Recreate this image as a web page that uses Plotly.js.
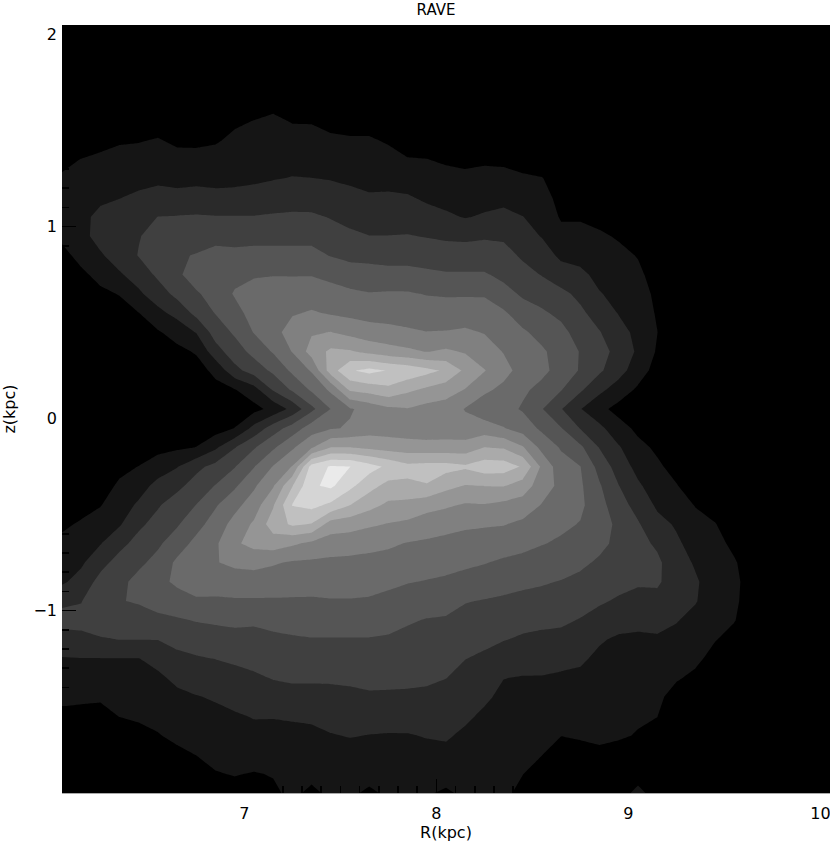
<!DOCTYPE html>
<html><head><meta charset="utf-8">
<script src="https://cdn.plot.ly/plotly-3.0.1.min.js"></script>
<style>html,body{margin:0;padding:0;background:#fff}#p{width:830px;height:846px}</style>
</head><body><div id="p"></div>
<script>
const chartTitle = 'RAVE', xLabel = 'R(kpc)', yLabel = 'z(kpc)';
const levelColors = ['#000000','#151515','#2a2a2a','#404040','#555555','#6a6a6a','#808080','#959595','#aaaaaa','#c0c0c0','#d5d5d5','#eaeaea'];
const xTicks = [7,8,9,10], yTicks = [-1,0,1,2];
const R = [6.05,6.15,6.25,6.35,6.45,6.55,6.65,6.75,6.85,6.95,7.05,7.15,7.25,7.35,7.45,7.55,7.65,7.75,7.85,7.95,8.05,8.15,8.25,8.35,8.45,8.55,8.65,8.75,8.85,8.95,9.05,9.15,9.25,9.35,9.45,9.55,9.65];
const Z = [2.05,1.95,1.85,1.75,1.65,1.55,1.45,1.35,1.25,1.15,1.05,.95,.85,.75,.65,.55,.45,.35,.25,.15,.05,-.05,-.15,-.25,-.35,-.45,-.55,-.65,-.75,-.85,-.95,-1.05,-1.15,-1.25,-1.35,-1.45,-1.55,-1.65,-1.75,-1.85,-1.95];
// density level per column of R (top row z=2.05 first)
const c00=[0,0,0,0,0,0,0,.8,1.1,1.35, 1.6,1.2,.7,.3,0,0,0,0,0,0, 0,0,0,0,0,.5,.85,1.2,1.55,1.85, 2.8,3.35,2.6,1.95,1.5,1.2,.8,.4,.2,0, 0];
const c01=[0,0,0,0,0,0,.5,1.02,1.3,1.55, 1.8,1.75,1.3,.8,.3,0,0,0,0,0, 0,0,0,0,.3,.7,1.1,1.45,1.85,2.35, 2.95,3.35,2.7,1.98,1.5,1.15,.75,.4,.2,0, 0];
const c02=[0,0,0,0,0,.3,.75,1.15,1.5,1.85, 2.2,2.3,1.9,1.3,.8,.3,0,0,0,0, 0,0,0,.2,.6,.95,1.45,1.95,2.65,3.35, 3.8,3.6,2.9,1.98,1.55,1.1,.75,.45,.2,0, 0];
const c03=[0,0,0,0,0,.1,.9,1.3,1.6,1.98, 2.35,2.6,2.4,1.9,1.05,.6,.2,0,0,0, 0,0,0,.75,1.15,1.55,1.9,2.7,3.4,3.75, 3.95,3.6,3.02,1.98,1.65,1.35,1.02,.6,.3,0, 0];
const c04=[0,0,0,0,0,.5,.95,1.3,1.75,2.15, 2.55,2.95,3.05,2.4,1.85,.98,.6,.2,0,0, 0,0,.4,1.02,1.6,2.15,2.8,3.35,3.8,4.3, 4.1,3.55,3.02,1.98,1.7,1.4,1.1,.8,.5,.2, 0];
const c05=[0,0,0,0,0,.65,1.05,1.4,1.8,2.35, 3.02,3.35,3.5,3.2,2.5,1.75,.9,.5,.1,0, 0,0,.7,1.5,2.3,2.9,3.35,3.85,4.3,4.7, 4.4,3.75,3.02,2.35,1.8,1.55,1.25,.95,.6,.3, 0];
const c06=[0,0,0,0,0,.45,.85,1.25,1.65,2.35, 3.05,3.5,3.9,3.85,3.3,2.3,1.4,.75,.4,0, 0,.2,.85,1.95,2.75,3.5,3.9,4.5,5.2,5.2, 4.55,3.9,3.3,2.75,2.25,1.75,1.5,1.2,.8,.4, 0];
const c07=[0,0,0,0,0,.45,.8,1.3,1.8,2.3, 3.1,3.6,4.05,4.4,3.9,3.3,2.05,1.1,.6,.25, 0,.5,1.02,2.75,3.4,4.02,4.65,5.3,5.7,5.55, 4.85,4.05,3.5,2.9,2.45,1.95,1.6,1.3,1.02,.6, .2];
const c08=[0,0,0,0,.1,.55,.9,1.35,1.75,2.25, 3.05,3.7,4.3,4.6,4.35,4.05,3.45,2.6,1.25,.7, .1,.55,1.85,3.3,4.05,4.9,5.45,5.85,5.95,5.5, 4.85,4.15,3.55,3.02,2.55,2.1,1.75,1.5,1.25,.95, .6];
const c09=[0,0,0,0,.3,.85,1.2,1.5,1.8,2.25, 3.05,3.65,4.25,4.7,5.1,4.65,4.15,3.55,2.7,.95, .4,1.02,2.95,3.95,4.85,5.7,6.35,6.85,6.2,5.55, 4.9,4.2,3.7,3.15,2.7,2.3,1.9,1.6,1.3,1.05, .7];
const c10=[0,0,0,0,.5,1.02,1.3,1.6,1.85,2.35, 3.05,3.7,4.3,4.9,5.4,5.4,5.05,4.3,3.45,1.6, .7,2.3,3.9,4.95,5.85,6.5,7.15,7.3,6.3,5.55, 4.9,4.15,3.7,3.3,2.85,2.45,2.05,1.75,1.4,.95, .6];
const c11=[0,0,0,.2,.75,1.15,1.4,1.65,1.95,2.55, 3.1,3.7,4.3,4.95,5.5,5.8,5.6,5.1,4.2,3.1, 1.3,3.5,4.85,6.05,6.9,7.9,8.5,7.5,6.1,5.5, 4.9,4.3,3.8,3.4,3.05,2.6,2.05,1.7,1.4,1.05, .85];
const c12=[0,0,0,.1,.55,.95,1.3,1.65,2.05,2.6, 3.15,3.7,4.3,4.95,5.45,5.9,6.5,6.05,5.2,4.15, 2.3,4.45,5.85,7.05,8.95,10.05,9.15,7.15,5.9,5.4, 4.9,4.35,3.9,3.5,3.15,2.65,2.1,1.75,1.45,1.2, 1.2];
const c13=[0,0,0,0,.35,.95,1.25,1.6,2.02,2.55, 3.15,3.7,4.3,4.95,5.5,6.1,6.9,7.4,6.1,5.15, 3.75,5.5,6.9,10.4,10.85,10.3,8.95,6.8,5.85,5.35, 4.9,4.45,3.95,3.55,3.15,2.65,2.15,1.8,1.5,1.25, .8];
const c14=[0,0,0,0,.1,.75,1.15,1.5,1.95,2.45, 2.95,3.4,3.95,4.75,5.35,5.9,7.02,8.2,8.5,6.2, 5.02,5.9,8.02,11.1,11.2,9.8,7.55,6.5,5.8,5.35, 4.95,4.45,3.95,3.5,3.15,2.7,2.35,1.95,1.6,1.3, 1.2];
const c15=[0,0,0,0,0,.65,1.1,1.45,1.85,2.25, 2.7,3.2,3.75,4.45,5.2,5.75,6.7,8.1,9.9,8.15, 5.9,6.1,8.02,11.02,10.25,9.02,7.4,6.45,5.75,5.35, 4.95,4.45,3.95,3.55,3.2,2.75,2.45,2.05,1.65,1.35, 1.2];
const c16=[0,0,0,0,0,.65,1.1,1.4,1.75,2.1, 2.5,3.02,3.7,4.4,5.05,5.65,6.4,7.7,10.3,8.4, 6.35,6.5,7.8,10.4,9.35,8.35,7.15,6.3,5.7,5.35, 4.9,4.45,3.95,3.6,3.3,2.85,2.4,1.98,1.7,1.4, .8];
const c17=[0,0,0,0,0,.45,.9,1.3,1.7,2.15, 2.55,3.02,3.6,4.35,5.1,5.6,6.3,7.4,9.95,8.75, 6.8,6.5,7.6,9.8,8.7,7.8,6.95,6.15,5.65,5.2, 4.75,4.3,3.9,3.55,3.25,2.85,2.35,1.95,1.7,1.45, 1.2];
const c18=[0,0,0,0,0,.2,.6,1.05,1.6,2.1, 2.55,3.05,3.65,4.3,5.1,5.55,6.15,7.2,9.7,8.2, 6.95,6.4,7.5,9.25,8.85,7.65,6.8,5.95,5.5,5.05, 4.55,4.1,3.75,3.5,3.2,2.85,2.4,1.95,1.7,1.5, 1.2];
const c19=[0,0,0,0,0,0,.4,1.02,1.5,1.85, 2.35,2.95,3.55,4.2,4.95,5.5,6.02,6.95,9.3,7.8, 6.65,6.3,7.45,9.35,8.95,7.35,6.5,5.85,5.4,4.95, 4.45,3.95,3.7,3.4,3.2,2.75,2.4,2.05,1.75,1.45, 1.1];
const c20=[0,0,0,0,0,0,.3,.85,1.35,1.7, 2.15,2.85,3.45,4.1,4.9,5.45,6.05,7.15,8.85,7.45, 6.55,6.35,7.45,9.35,8.3,7.15,6.3,5.75,5.3,4.85, 4.35,3.9,3.6,3.3,3.02,2.65,2.3,2.1,1.8,1.4, .85];
const c21=[0,0,0,0,0,0,.2,.7,1.3,1.65, 1.95,2.8,3.45,4.1,4.9,5.5,6.15,6.9,7.8,6.95, 5.95,6.3,7.45,9.15,7.95,6.9,6.15,5.65,5.2,4.65, 4.05,3.7,3.35,3.02,2.65,2.35,2.15,1.85,1.65,1.4, 1.2];
const c22=[0,0,0,0,0,0,.3,.85,1.3,1.7, 2.1,2.9,3.45,4.1,4.9,5.45,5.95,6.45,7.05,6.2, 5.4,6.45,8.02,9.55,8.02,6.95,6.1,5.55,5.05,4.5, 3.95,3.55,3.2,2.85,2.45,2.15,1.85,1.65,1.45,1.2, 1.2];
const c23=[0,0,0,0,0,0,.3,.8,1.3,1.8, 2.2,2.85,3.35,3.75,4.35,5.15,5.6,5.95,6.35,5.75, 5.35,6.05,7.9,9.5,8.05,6.75,6.05,5.45,4.85,4.35, 3.85,3.45,3.05,2.45,2.02,1.8,1.65,1.5,1.3,1.1, 1.25];
const c24=[0,0,0,0,0,0,.2,.6,1.15,1.6, 2.02,2.4,2.85,3.35,3.85,4.45,5.15,5.4,5.6,5.15, 4.9,5.55,7.1,8.9,7.55,6.55,5.8,5.25,4.75,4.2, 3.75,3.35,2.85,2.4,1.95,1.75,1.55,1.35,1.2,1.02, .7];
const c25=[0,0,0,0,0,0,0,.4,1.05,1.3, 1.65,1.95,2.45,2.95,3.55,4.15,4.65,5.15,5.2,4.75, 4.05,4.8,5.7,6.8,6.45,5.95,5.5,5.05,4.55,4.1, 3.65,3.2,2.8,2.35,1.95,1.7,1.45,1.25,1.02,.6, .2];
const c26=[0,0,0,0,0,0,0,0,.4,.75, .9,1.3,1.8,2.45,3.25,3.75,4.3,4.55,4.7,4.05, 3.05,4.05,4.9,5.4,5.75,5.55,5.2,4.85,4.45,3.95, 3.55,3.15,2.75,2.3,1.85,1.5,1.3,1.02,.6,.2, 0];
const c27=[0,0,0,0,0,0,0,0,.1,.55, .9,1.3,1.7,2.2,2.75,3.2,3.55,3.95,3.9,3.15, 2.05,2.95,4.2,5.02,5.15,5.2,4.95,4.55,4.2,3.75, 3.35,2.95,2.6,2.15,1.8,1.5,1.3,1.1,.7,.3, 0];
const c28=[0,0,0,0,0,0,0,0,0,.3, .7,1.15,1.45,1.75,2.05,2.55,3.05,3.4,3.15,2.25, 1.25,2.25,2.95,3.65,4.1,4.35,4.5,4.25,3.85,3.45, 3.1,2.7,2.1,1.8,1.55,1.35,1.2,1.15,.85,.4, 0];
const c29=[0,0,0,0,0,0,0,0,0,0, .45,.9,1.25,1.5,1.75,1.95,2.35,2.65,2.4,1.5, .7,1.35,2.1,2.55,3.02,3.4,3.75,3.75,3.55,3.25, 2.9,2.4,1.85,1.6,1.45,1.3,1.2,1.1,.7,.3, .6];
const c30=[0,0,0,0,0,0,0,0,0,0, .1,.55,.95,1.2,1.4,1.6,1.75,1.85,1.45,.85, .3,.8,1.25,1.7,2.15,2.65,3.1,3.3,3.25,3.1, 2.75,2.3,1.8,1.55,1.4,1.2,1.1,.95,.6,.6, 1.25];
const c31=[0,0,0,0,0,0,0,0,0,0, 0,.1,.3,.6,.8,.9,1.02,.9,.65,.2, 0,.2,.85,1.15,1.5,1.85,2.3,2.85,3.2,3.15, 2.7,2.25,1.9,1.6,1.4,1.2,1.02,.65,.3,.1, .6];
const c32=[0,0,0,0,0,0,0,0,0,0, 0,0,0,0,0,0,0,0,0,0, 0,0,.2,.7,1.05,1.45,1.9,2.15,2.4,2.5, 2.3,2.05,1.75,1.45,1.1,.65,.3,0,0,0, 0];
const c33=[0,0,0,0,0,0,0,0,0,0, 0,0,0,0,0,0,0,0,0,0, 0,0,0,.1,.5,.95,1.3,1.65,1.9,2.1, 2.05,1.75,1.45,1.2,.8,.4,0,0,0,0, 0];
const c34=[0,0,0,0,0,0,0,0,0,0, 0,0,0,0,0,0,0,0,0,0, 0,0,0,0,.1,.6,1.05,1.3,1.5,1.6, 1.55,1.4,1.05,.7,.4,0,0,0,0,0, 0];
const c35=[0,0,0,0,0,0,0,0,0,0, 0,0,0,0,0,0,0,0,0,0, 0,0,0,0,0,.1,.5,.8,1.1,1.2, 1.15,1.05,.7,.3,0,0,0,0,0,0, 0];
const c36=[0,0,0,0,0,0,0,0,0,0, 0,0,0,0,0,0,0,0,0,0, 0,0,0,0,0,0,0,.2,.5,.6, .6,.5,.2,0,0,0,0,0,0,0, 0];
const columns=[c00,c01,c02,c03,c04,c05,c06,c07,c08,c09,c10,c11,c12,c13,c14,c15,c16,c17,c18,c19,c20,c21,c22,c23,c24,c25,c26,c27,c28,c29,c30,c31,c32,c33,c34,c35,c36];

const zGrid = Z.map((_, r) => columns.map(col => col[r]));
const n = levelColors.length;
const colorscale = [];
levelColors.forEach((c, i) => { colorscale.push([i / n, c]); colorscale.push([(i + 1) / n, c]); });
const font = 'DejaVu Sans, Arial, sans-serif';
Plotly.newPlot('p', [{
  type: 'contour', x: R, y: Z, z: zGrid, zauto: false, zmin: 0, zmax: n,
  colorscale, showscale: false, hoverinfo: 'skip',
  autocontour: false, contours: {start: 1, end: n - 1, size: 1, coloring: 'fill', showlines: false},
  line: {width: 0, smoothing: 0}
}], {
  width: 830, height: 846,
  margin: {l: 62, r: 0, t: 25, b: 53},
  paper_bgcolor: '#fff', plot_bgcolor: '#000', showlegend: false,
  title: {text: chartTitle, x: 436/830, xanchor: 'center', y: 1-10/846, yanchor: 'middle', font: {family: font, size: 15, color: '#000'}},
  xaxis: {range: [6.05, 10.05], tickvals: xTicks, ticktext: xTicks.map(String), ticks: 'inside', ticklen: 14, tickwidth: 1.5, tickcolor: '#000',
    minor: {dtick: 0.1, ticks: 'inside', ticklen: 7, tickwidth: 1.5, tickcolor: '#000'},
    showgrid: false, zeroline: false, showline: true, linecolor: '#aaa', linewidth: 1, ticklabelstandoff: 6, ticklabeloverflow: 'allow', automargin: false,
    tickfont: {family: font, size: 16, color: '#000'},
    title: {text: xLabel, standoff: 4, font: {family: font, size: 16, color: '#000'}}},
  yaxis: {range: [-1.95, 2.05], tickvals: yTicks, ticktext: ['\u22121','0','1','2'], ticks: 'inside', ticklen: 14, tickwidth: 1.5, tickcolor: '#000',
    minor: {dtick: 0.1, ticks: 'inside', ticklen: 7, tickwidth: 1.5, tickcolor: '#000'},
    showgrid: false, zeroline: false, showline: false, ticklabelstandoff: 4, automargin: false,
    tickfont: {family: font, size: 16, color: '#000'},
    title: {text: yLabel, standoff: 20, font: {family: font, size: 16, color: '#000'}}}
}, {displayModeBar: false, staticPlot: true});
</script></body></html>
